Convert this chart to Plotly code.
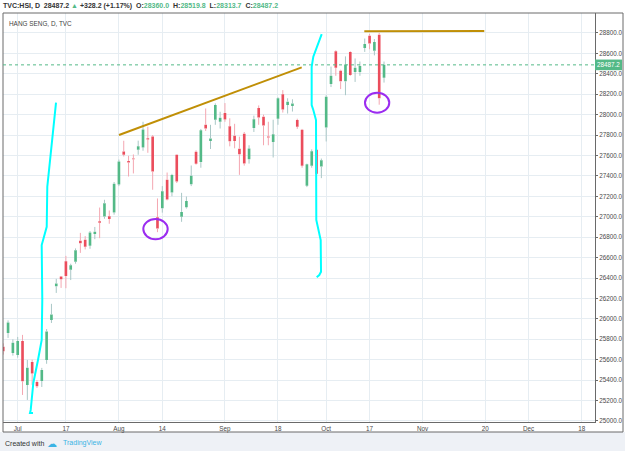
import pandas as pd
import plotly.graph_objects as go

# ---------------- data ----------------
dates = ["2017-06-28", "2017-06-29", "2017-06-30", "2017-07-03", "2017-07-04", "2017-07-05",
         "2017-07-06", "2017-07-07", "2017-07-10", "2017-07-11", "2017-07-12", "2017-07-13",
         "2017-07-14", "2017-07-17", "2017-07-18", "2017-07-19", "2017-07-20", "2017-07-21",
         "2017-07-24", "2017-07-25", "2017-07-26", "2017-07-27", "2017-07-28", "2017-07-31",
         "2017-08-01", "2017-08-02", "2017-08-03", "2017-08-04", "2017-08-07", "2017-08-08",
         "2017-08-09", "2017-08-10", "2017-08-11", "2017-08-14", "2017-08-15", "2017-08-16",
         "2017-08-17", "2017-08-18", "2017-08-21", "2017-08-22", "2017-08-24", "2017-08-25",
         "2017-08-28", "2017-08-29", "2017-08-30", "2017-08-31", "2017-09-01", "2017-09-04",
         "2017-09-05", "2017-09-06", "2017-09-07", "2017-09-08", "2017-09-11", "2017-09-12",
         "2017-09-13", "2017-09-14", "2017-09-15", "2017-09-18", "2017-09-19", "2017-09-20",
         "2017-09-21", "2017-09-22", "2017-09-25", "2017-09-26", "2017-09-27", "2017-09-28",
         "2017-09-29", "2017-10-03", "2017-10-04", "2017-10-06", "2017-10-09", "2017-10-10",
         "2017-10-11", "2017-10-12", "2017-10-13", "2017-10-16", "2017-10-17", "2017-10-18",
         "2017-10-19", "2017-10-20"]
opens = [25727, 25862, 25666, 25647, 25784, 25353, 25578, 25382, 25392, 25598, 25990, 26320,
         26414, 26565, 26480, 26558, 26764, 26774, 26716, 26830, 26957, 27002, 27005, 27041,
         27316, 27639, 27545, 27570, 27656, 27678, 27768, 27786, 26996, 27084, 27362, 27237,
         27607, 26999, 27094, 27319, 27636, 27535, 27901, 27741, 27950, 27930, 28016, 27885,
         27793, 27666, 27813, 27563, 27868, 28064, 27979, 27786, 27733, 27960, 28200, 28094,
         28084, 27947, 27852, 27303, 27499, 27656, 27492, 27874, 28299, 28620, 28430, 28327,
         28613, 28417, 28417, 28653, 28773, 28626, 28783, 28360.0]
highs = [25760, 25985, 25800, 25823, 25843, 25598, 25600, 25400, 25520, 25900, 26147, 26392,
         26420, 26617, 26540, 26690, 26842, 26810, 26860, 26900, 27090, 27166, 27061, 27340,
         27560, 27744, 27597, 27610, 27745, 27930, 27881, 27800, 27179, 27300, 27433, 27420,
         27610, 27234, 27198, 27502, 27650, 27860, 28060, 27900, 28110, 28028, 28113, 27964,
         27910, 27784, 27830, 27700, 27990, 28090, 28000, 27930, 27950, 28170, 28240, 28160,
         28150, 27960, 27860, 27520, 27660, 27700, 27570, 28190, 28470, 28630, 28440, 28570,
         28620, 28550, 28520, 28745, 28790, 28740, 28800, 28519.8]
lows = [25650, 25813, 25640, 25620, 25255, 25206, 25353, 25323, 25333, 25560, 25960, 26254,
        26303, 26300, 26380, 26540, 26646, 26680, 26686, 26780, 26790, 26980, 26931, 27020,
        27300, 27590, 27394, 27424, 27607, 27646, 27626, 27264, 26849, 27040, 27160, 27200,
        27330, 26950, 27080, 27300, 27510, 27480, 27840, 27663, 27900, 27864, 27930, 27689,
        27670, 27410, 27500, 27520, 27830, 27900, 27700, 27700, 27580, 27900, 28020, 28010,
        28030, 27860, 27480, 27290, 27480, 27410, 27378, 27737, 28270, 28380, 28250, 28190,
        28380, 28320, 28380, 28614, 28640, 28580, 28097, 28313.7]
closes = [25683, 25965, 25765, 25784, 25389, 25521, 25465, 25341, 25500, 25877, 26043, 26346,
          26389, 26420, 26524, 26672, 26740, 26706, 26846, 26852, 26941, 27131, 26979, 27323,
          27540, 27608, 27531, 27563, 27690, 27854, 27757, 27444, 26884, 27250, 27169, 27409,
          27344, 27047, 27154, 27401, 27519, 27848, 27863, 27765, 28094, 27970, 27953, 27740,
          27741, 27613, 27522, 27668, 27955, 27972, 27894, 27777, 27807, 28160, 28051, 28127,
          28110, 27880, 27500, 27513, 27642, 27421, 27554, 28174, 28380, 28458, 28326, 28490,
          28389, 28459, 28476, 28692, 28697, 28711, 28159, 28487.2]

holidays = ["2017-08-23", "2017-10-02", "2017-10-05", "2017-12-25", "2017-12-26"]

tick_dates = ["2017-07-03", "2017-07-17", "2017-08-01", "2017-08-14", "2017-09-01", "2017-09-18",
              "2017-10-03", "2017-10-17", "2017-11-01", "2017-11-20", "2017-12-01", "2017-12-18"]
tick_text = ["Jul", "17", "Aug", "14", "Sep", "18", "Oct", "17", "Nov", "20", "Dec", "18"]
price_ticks = [25000, 25200, 25400, 25600, 25800, 26000, 26200, 26400, 26600, 26800, 27000,
               27200, 27400, 27600, 27800, 28000, 28200, 28400, 28600, 28800]

last_price = 28487.2

# hand drawings (trading-day position, price)
cyan_left_x = [6.17, 5.55, 5.70, 6.24, 7.21, 7.98, 8.10, 7.98, 9.02, 9.14, 10.95]
cyan_left_y = [25078, 25078, 25108, 25372, 25597, 25793, 26185, 26723, 26902, 27294, 28117]
cyan_right_x = [66.07, 64.33, 63.99, 63.99, 64.33, 64.89, 64.95, 65.86, 65.93, 65.57, 65.03]
cyan_right_y = [28789, 28567, 28469, 28094, 28045, 27947, 26968, 26772, 26462, 26429, 26407]
trend_up_x = [24.02, 61.92]
trend_up_y = [27800, 28463]
trend_flat_x = [74.91, 99.8]
trend_flat_y = [28816, 28819]
circle1_x = [29.06, 34.12]
circle1_y = [26780, 26978]
circle2_x = [75.05, 80.09]
circle2_y = [28019, 28214]

# ---------------- build ----------------
cal = [d.strftime("%Y-%m-%d") for d in pd.bdate_range("2017-06-28", "2017-12-29")]
cal = [d for d in cal if d not in holidays]
pos = {d: i for i, d in enumerate(cal)}
xs = [pos[d] for d in dates]
tickvals = [pos[d] for d in tick_dates]

UP = "#53b987"
DN = "#eb4d5c"
UP_WICK = "#a9c7c6"
DN_WICK = "#f4a7b1"

def wick_segments(up):
    wx, wy = [], []
    for x, o, h, l, c in zip(xs, opens, highs, lows, closes):
        if (c >= o) != up:
            continue
        top, bot = max(o, c), min(o, c)
        wx += [x, x, None, x, x, None]
        wy += [h, top, None, bot, l, None]
    return wx, wy

fig = go.Figure()
for up, col in [(True, UP_WICK), (False, DN_WICK)]:
    wx, wy = wick_segments(up)
    fig.add_trace(go.Scatter(x=wx, y=wy, mode="lines", line=dict(color=col, width=1),
                             hoverinfo="skip", showlegend=False))

fig.add_trace(go.Candlestick(
    x=xs, open=opens, high=highs, low=lows, close=closes,
    increasing=dict(fillcolor=UP, line=dict(color=UP, width=0)),
    decreasing=dict(fillcolor=DN, line=dict(color=DN, width=0)),
    whiskerwidth=0, showlegend=False))

W, H = 625, 451
L, R, T, B = 3, 30, 13, 29
pw, ph = W - L - R, H - T - B

def px(xp):
    return (xp - L) / pw

def py(yp):
    return (H - B - yp) / ph

FONT = "Liberation Sans, Arial, sans-serif"
AXC = "#6a6a6a"
GRID = "#e6edf2"

shapes = []
# footer background
shapes.append(dict(type="rect", xref="paper", yref="paper", x0=px(0), x1=px(W), y0=py(432), y1=py(H),
                   fillcolor="#eef1f6", line=dict(width=0), layer="below"))
# outer frame
shapes.append(dict(type="rect", xref="paper", yref="paper", x0=0, x1=px(623), y0=py(432), y1=1,
                   line=dict(color=AXC, width=1), fillcolor="rgba(0,0,0,0)"))
# last price dotted line
shapes.append(dict(type="line", xref="paper", yref="y", x0=0, x1=1, y0=last_price, y1=last_price,
                   line=dict(color=UP, width=1, dash="dot")))
# last price label
shapes.append(dict(type="rect", xref="paper", yref="y", x0=1.0, x1=px(622),
                   y0=last_price - 52, y1=last_price + 52, fillcolor=UP, line=dict(width=0)))

def path(xv, yv):
    return "M " + " L ".join(f"{a},{b}" for a, b in zip(xv, yv))

shapes.append(dict(type="path", xref="x", yref="y", path=path(cyan_left_x, cyan_left_y),
                   line=dict(color="#00ffff", width=2)))
shapes.append(dict(type="path", xref="x", yref="y", path=path(cyan_right_x, cyan_right_y),
                   line=dict(color="#00ffff", width=2)))
shapes.append(dict(type="line", xref="x", yref="y", x0=trend_up_x[0], x1=trend_up_x[1],
                   y0=trend_up_y[0], y1=trend_up_y[1], line=dict(color="#c08f06", width=2)))
shapes.append(dict(type="line", xref="x", yref="y", x0=trend_flat_x[0], x1=trend_flat_x[1],
                   y0=trend_flat_y[0], y1=trend_flat_y[1], line=dict(color="#c08f06", width=2)))
for cx, cy in [(circle1_x, circle1_y), (circle2_x, circle2_y)]:
    shapes.append(dict(type="circle", xref="x", yref="y", x0=cx[0], x1=cx[1], y0=cy[0], y1=cy[1],
                       line=dict(color="#9b2cf0", width=2)))

G = UP
header = ("<b>TVC:HSI, D  28487.2 <span style='color:%s'>▲</span> +328.2 (+1.17%%)  "
          "O:<span style='color:%s'>28360.0</span>  H:<span style='color:%s'>28519.8</span>  "
          "L:<span style='color:%s'>28313.7</span>  C:<span style='color:%s'>28487.2</span></b>") % (G, G, G, G, G)

annotations = [
    dict(xref="paper", yref="paper", x=px(1), y=py(6.5), xanchor="left", yanchor="middle",
         text=header, showarrow=False, font=dict(family=FONT, size=7, color="#333333")),
    dict(xref="paper", yref="paper", x=px(7.3), y=py(24), xanchor="left", yanchor="middle",
         text="HANG SENG, D, TVC", showarrow=False, font=dict(family=FONT, size=6.4, color="#444444")),
    dict(xref="paper", yref="y", x=px(608.5), y=last_price, xanchor="center", yanchor="middle",
         text="28487.2", showarrow=False, font=dict(family=FONT, size=6.3, color="#ffffff")),
    dict(xref="paper", yref="paper", x=px(3), y=py(443), xanchor="left", yanchor="middle",
         text="Created with", showarrow=False, font=dict(family=FONT, size=7, color="#333333")),
    dict(xref="paper", yref="paper", x=px(45), y=py(443), xanchor="left", yanchor="middle",
         text="☁", showarrow=False, font=dict(family="DejaVu Sans", size=10, color="#3bb3e4")),
    dict(xref="paper", yref="paper", x=px(61), y=py(443), xanchor="left", yanchor="middle",
         text="TradingView", showarrow=False, font=dict(family=FONT, size=7, color="#3bb3e4")),
]

fig.update_layout(
    width=W, height=H, margin=dict(l=L, r=R, t=T, b=B, pad=0),
    paper_bgcolor="#ffffff", plot_bgcolor="#ffffff",
    showlegend=False, shapes=shapes, annotations=annotations, boxgap=0.22,
    font=dict(family=FONT, size=6.3, color="#4a4a4a"),
    xaxis=dict(range=[-0.05, -0.05 + pw / 4.82], tickvals=tickvals, ticktext=tick_text,
               showgrid=True, gridcolor=GRID, gridwidth=1, zeroline=False,
               showline=True, linecolor=AXC, linewidth=1, ticks="", ticklen=0,
               tickfont=dict(family=FONT, size=6.3, color="#4a4a4a"),
               rangeslider=dict(visible=False), fixedrange=True),
    yaxis=dict(side="right", range=[24990, 28995], tickvals=price_ticks, tickformat=".1f",
               showgrid=True, gridcolor=GRID, gridwidth=1, zeroline=False,
               showline=True, linecolor=AXC, linewidth=1, ticks="outside", ticklen=2,
               tickcolor=AXC, tickfont=dict(family=FONT, size=6.3, color="#4a4a4a"),
               fixedrange=True),
)

fig.write_html("out.html")
